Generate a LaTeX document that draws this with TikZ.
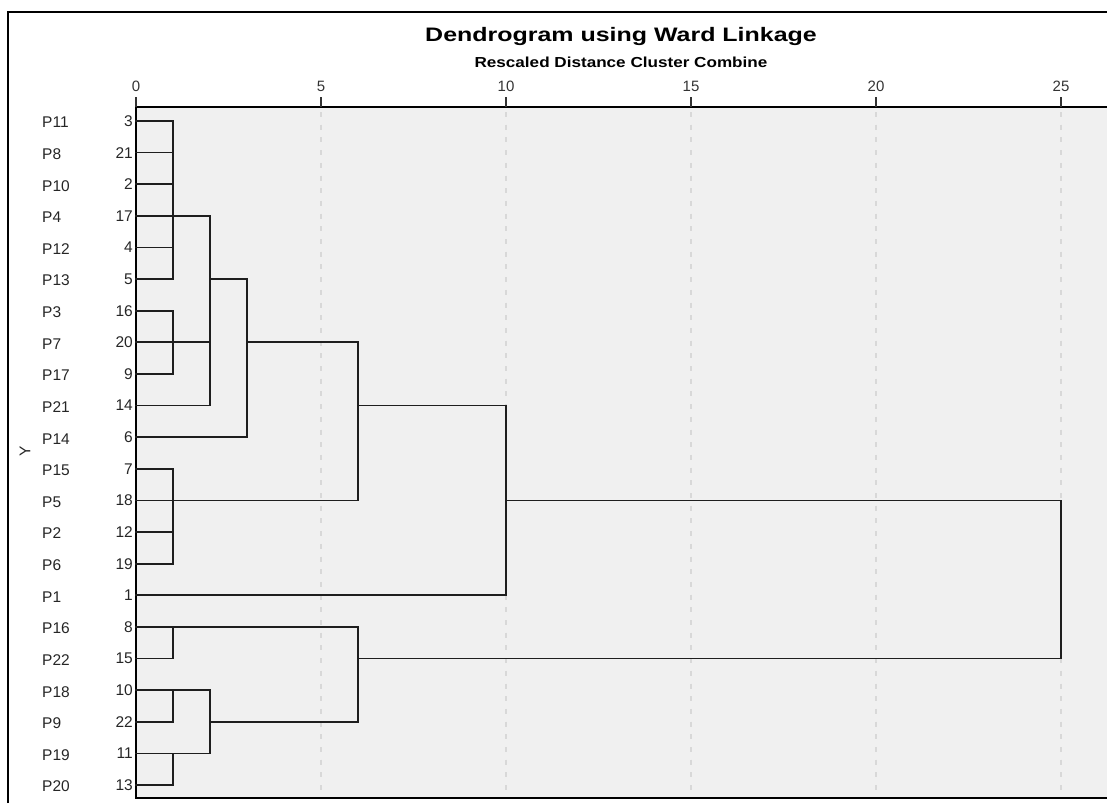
\documentclass[tikz,border=0pt]{standalone}
\usepackage{fontspec}
\setmainfont{Liberation Sans}
\usepackage{graphicx}
\definecolor{plotbg}{HTML}{F0F0F0}
\definecolor{gridc}{HTML}{D8D8D8}
\definecolor{linec}{HTML}{1E1E1E}
\tikzset{
  frame/.style={line width=1.5pt, black},
  grid line/.style={gridc, line width=2pt, dash pattern=on 5pt off 7.7pt},
  tree/.style={linec, line width=1.7pt, line cap=rect},
  lbl/.style={inner sep=0pt, font=\fontsize{15.5}{17}\selectfont, text=black!85},
  ticklbl/.style={inner sep=0pt, font=\fontsize{15}{17}\selectfont, text=black!80}
}
\begin{document}
\begin{tikzpicture}[x=1pt,y=-1pt]
  \useasboundingbox (0,0) rectangle (1107,803);
  % outer frame, cut at right and bottom
  \draw [frame] (8,803) -- (8,12) -- (1107,12);
  % plot area
  \fill [plotbg] (136,107) rectangle (1107,798);
  \foreach \v in {5,10,...,25}
    \draw [grid line] ({136+37*\v},112) -- ({136+37*\v},798);
  \draw [frame, line width=1.3pt] (1107,798) -- (136,798) -- (136,107) -- (1107,107);
  \foreach \v in {0,5,...,25} {
    \draw [line width=2.2pt, black!80] ({136+37*\v},107) -- ({136+37*\v},97);
    \node [ticklbl] (t\v) at ({136+37*\v},86) {\v};
  }
  % titles
  \node [inner sep=0pt, font=\fontsize{19.5}{22}\bfseries] (title) at (621,37)
    {\scalebox{1.28}[1]{Dendrogram using Ward Linkage}};
  \node [inner sep=0pt, font=\fontsize{14.5}{16}\bfseries] (subtitle) at (621,62)
    {\scalebox{1.18}[1]{Rescaled Distance Cluster Combine}};
  \node [lbl, rotate=90] (ylab) at (25,451) {Y};
  % leaf labels
  \foreach \p/\n [count=\i from 0] in {P11/3,P8/21,P10/2,P4/17,P12/4,P13/5,P3/16,
      P7/20,P17/9,P21/14,P14/6,P15/7,P5/18,P2/12,P6/19,P1/1,P16/8,P22/15,P18/10,
      P9/22,P19/11,P20/13} {
    \node [lbl, anchor=west] (p\i) at (42,{122.5+31.62*\i}) {\p};
    \node [lbl, anchor=east] (n\i) at (133,{121+31.62*\i}) {\n};
  }
  % tree, in distance units and rows
  \begin{scope}[shift={(136,121)}, x=37pt, y=-31.62pt]
    \foreach \i in {0,...,8,11,12,13,14,16,17,...,21}
      \draw [tree] (0,\i) -- (1,\i);
    \draw [tree] (0,9) -- (2,9);
    \draw [tree] (0,10) -- (3,10);
    \draw [tree] (0,15) -- (10,15);
    \draw [tree] (1,0) -- (1,5);
    \draw [tree] (1,3) -- (2,3);
    \draw [tree] (1,6) -- (1,8);
    \draw [tree] (1,7) -- (2,7);
    \draw [tree] (2,3) -- (2,9);
    \draw [tree] (2,5) -- (3,5);
    \draw [tree] (3,5) -- (3,10);
    \draw [tree] (3,7) -- (6,7);
    \draw [tree] (1,11) -- (1,14);
    \draw [tree] (1,12) -- (6,12);
    \draw [tree] (6,7) -- (6,12);
    \draw [tree] (6,9) -- (10,9);
    \draw [tree] (10,9) -- (10,15);
    \draw [tree] (10,12) -- (25,12);
    \draw [tree] (1,16) -- (1,17);
    \draw [tree] (1,16) -- (6,16);
    \draw [tree] (1,18) -- (1,19);
    \draw [tree] (1,18) -- (2,18);
    \draw [tree] (1,20) -- (1,21);
    \draw [tree] (1,20) -- (2,20);
    \draw [tree] (2,18) -- (2,20);
    \draw [tree] (2,19) -- (6,19);
    \draw [tree] (6,16) -- (6,19);
    \draw [tree] (6,17) -- (25,17);
    \draw [tree] (25,12) -- (25,17);
  \end{scope}
\end{tikzpicture}
\end{document}
